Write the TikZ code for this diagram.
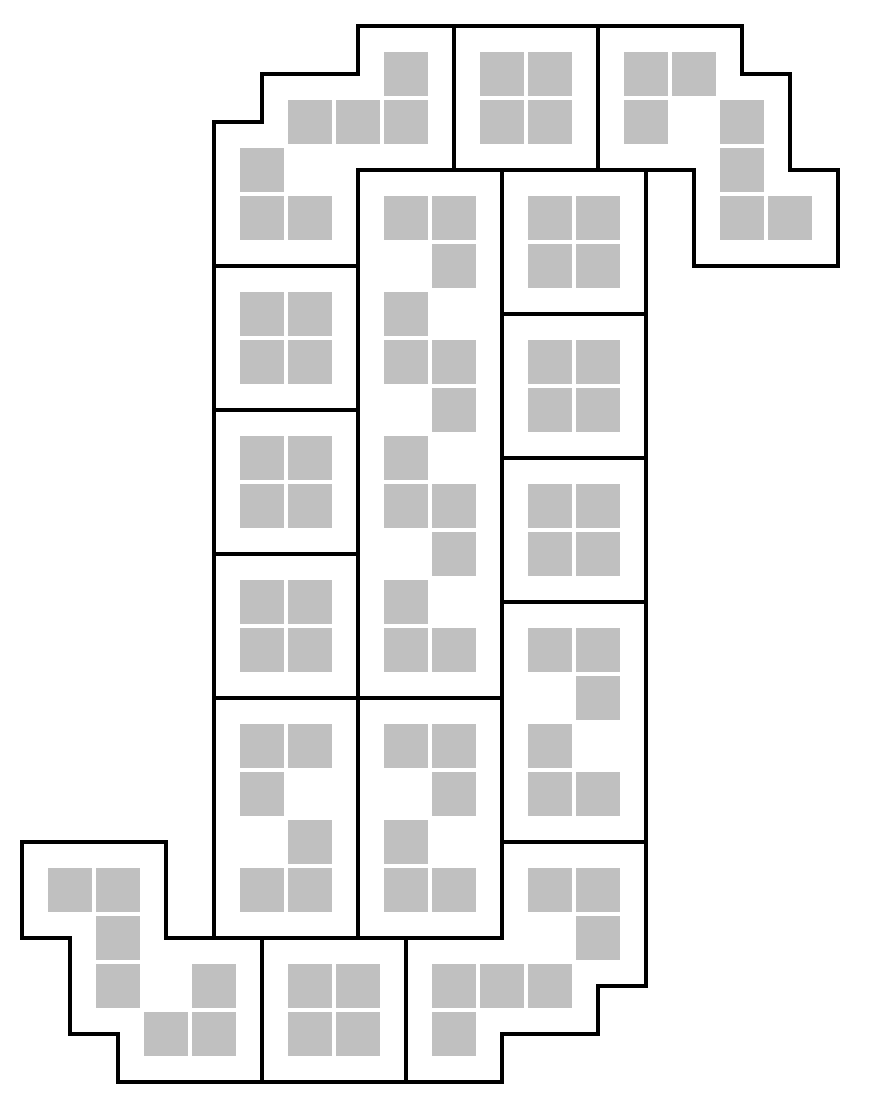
\documentclass[tikz,border=0pt]{standalone}
\usepackage{tikz}
\definecolor{cellgray}{RGB}{192,192,192}
\tikzset{
  piece/.style={draw=black, line width=4pt, line join=miter},
  cellsq/.style={fill=cellgray}
}
\begin{document}
\begin{tikzpicture}[x=48pt,y=-48pt]
\useasboundingbox (-0.458333,-0.541667) rectangle (17.625,22.541667);
\def\h{0.458333}
% gray squares
\foreach \x/\y in {
  8/1, 6/2, 7/2, 8/2, 5/3, 5/4, 6/4,
  10/1, 11/1, 10/2, 11/2,
  13/1, 14/1, 13/2, 15/2, 15/3, 15/4, 16/4,
  5/6, 6/6, 5/7, 6/7,
  5/9, 6/9, 5/10, 6/10,
  5/12, 6/12, 5/13, 6/13,
  5/15, 6/15, 5/16, 6/17, 5/18, 6/18,
  8/4, 9/4, 9/5, 8/6, 8/7, 9/7, 9/8, 8/9, 8/10, 9/10, 9/11, 8/12, 8/13, 9/13,
  8/15, 9/15, 9/16, 8/17, 8/18, 9/18,
  11/4, 12/4, 11/5, 12/5,
  11/7, 12/7, 11/8, 12/8,
  11/10, 12/10, 11/11, 12/11,
  11/13, 12/13, 12/14, 11/15, 11/16, 12/16,
  11/18, 12/18, 12/19, 9/20, 10/20, 11/20, 9/21,
  6/20, 7/20, 6/21, 7/21,
  1/18, 2/18, 2/19, 2/20, 4/20, 3/21, 4/21}
  \fill[cellsq] (\x-\h,\y-\h) rectangle (\x+\h,\y+\h);
% pieces
\draw[piece] (7,0) -- (9,0) -- (9,3) -- (7,3) -- (7,5) -- (4,5) -- (4,2) -- (5,2) -- (5,1) -- (7,1) -- cycle;
\draw[piece] (9,0) rectangle (12,3);
\draw[piece] (12,0) -- (15,0) -- (15,1) -- (16,1) -- (16,3) -- (17,3) -- (17,5) -- (14,5) -- (14,3) -- (12,3) -- cycle;
\draw[piece] (4,5) rectangle (7,8);
\draw[piece] (4,8) rectangle (7,11);
\draw[piece] (4,11) rectangle (7,14);
\draw[piece] (4,14) rectangle (7,19);
\draw[piece] (7,3) rectangle (10,14);
\draw[piece] (7,14) rectangle (10,19);
\draw[piece] (10,3) rectangle (13,6);
\draw[piece] (10,6) rectangle (13,9);
\draw[piece] (10,9) rectangle (13,12);
\draw[piece] (10,12) rectangle (13,17);
\draw[piece] (10,17) -- (13,17) -- (13,20) -- (12,20) -- (12,21) -- (10,21) -- (10,22) -- (8,22) -- (8,19) -- (10,19) -- cycle;
\draw[piece] (5,19) rectangle (8,22);
\draw[piece] (0,17) -- (3,17) -- (3,19) -- (5,19) -- (5,22) -- (2,22) -- (2,21) -- (1,21) -- (1,19) -- (0,19) -- cycle;
\end{tikzpicture}
\end{document}
